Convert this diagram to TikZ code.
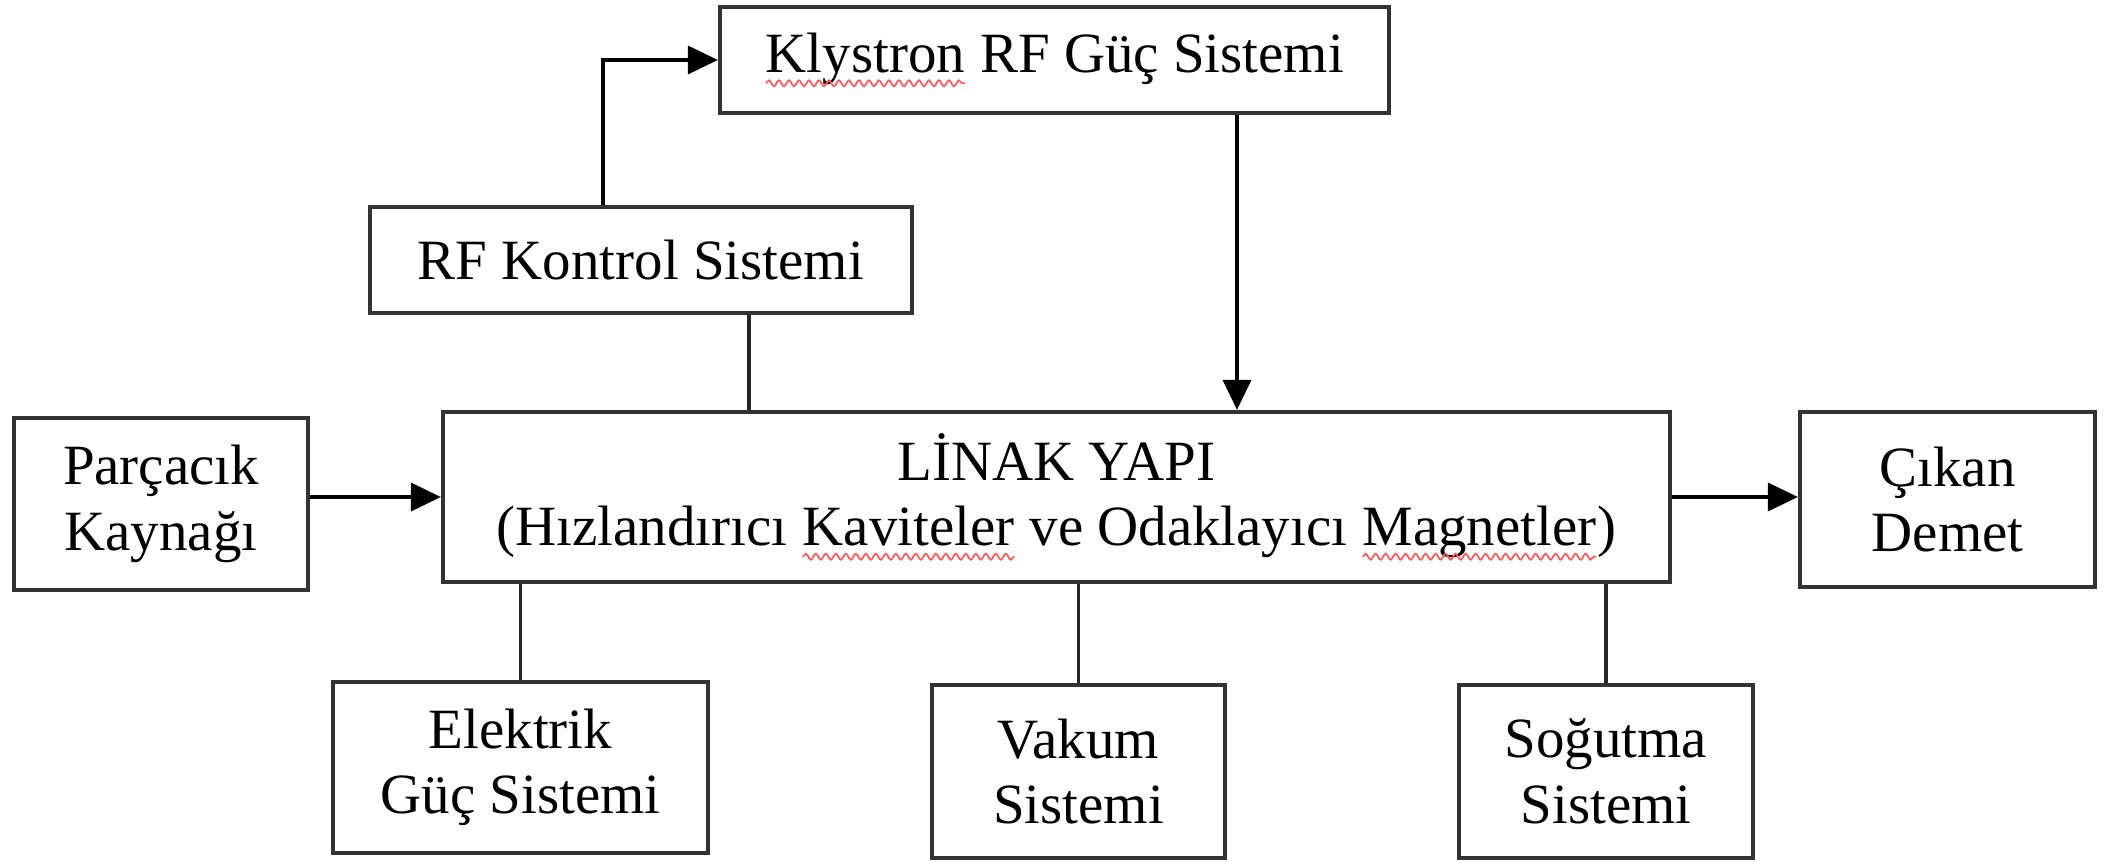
\documentclass[tikz,border=0pt]{standalone}
\usepackage{fontspec}
\setmainfont{Liberation Serif}
\usetikzlibrary{arrows.meta,decorations.pathmorphing}

\newcommand{\imla}[1]{\tikz[baseline=(w.base)]{\node[draw=none,inner sep=0pt,outer sep=0pt,minimum width=0pt,minimum height=0pt] (w) {#1};
  \draw[red!65,line width=0.5pt,decorate,decoration={snake,amplitude=0.3mm,segment length=1mm}] ([yshift=-1.1mm]w.base west) -- ([yshift=-1.1mm]w.base east);}}

\begin{document}
\begin{tikzpicture}[x=0.1mm,y=-0.1mm,
        kutu/.style={draw=black!80,line width=1.2pt,inner sep=0pt,align=center,font=\fontsize{16.2}{18.6}\selectfont},
        ok/.style={line width=1pt,-{Triangle[length=3mm,width=2.8mm]}},
        hat/.style={line width=1pt,draw=black!85}]
        \useasboundingbox (0,0) rectangle (2106,863);

        \node[kutu,minimum width=66.9mm,minimum height=10.6mm] (klystron) at (1054.5,60) {\imla{Klystron} RF Güç Sistemi};
        \node[kutu,minimum width=54.2mm,minimum height=10.6mm] (rfkontrol) at (641,260) {RF Kontrol Sistemi};
        \node[kutu,minimum width=122.7mm,minimum height=17mm] (linak) at (1056.5,497) {LİNAK YAPI\\(Hızlandırıcı \imla{Kaviteler} ve Odaklayıcı \imla{Magnetler})};
        \node[kutu,minimum width=29.4mm,minimum height=17.2mm] (parcacik) at (161,504) {Parçacık\\Kaynağı};
        \node[kutu,minimum width=29.5mm,minimum height=17.5mm] (cikan) at (1947.5,499.5) {Çıkan\\Demet};
        \node[kutu,minimum width=37.5mm,minimum height=17.1mm] (elektrik) at (520.5,767.5) {Elektrik\\Güç Sistemi};
        \node[kutu,minimum width=29.3mm,minimum height=17.3mm] (vakum) at (1078.5,771.5) {Vakum\\Sistemi};
        \node[kutu,minimum width=29.4mm,minimum height=17.3mm] (sogutma) at (1606,771.5) {Soğutma\\Sistemi};

        \coordinate (rfust) at ([xshift=-3.8mm]rfkontrol.north);
        \coordinate (rfalt) at ([xshift=10.8mm]rfkontrol.south);
        \coordinate (klalt) at ([xshift=18.25mm]klystron.south);

        \draw[ok] (parcacik.east |- linak.west) -- (linak.west);
        \draw[ok] (linak.east) -- (cikan.west |- linak.east);
        \draw[ok] (rfust) |- (klystron.west);
        \draw[hat] (rfalt) -- (rfalt |- linak.north);
        \draw[ok] (klalt) -- (klalt |- linak.north);
        \draw[hat] (elektrik.north |- linak.south) -- (elektrik.north);
        \draw[hat] (vakum.north |- linak.south) -- (vakum.north);
        \draw[hat] (sogutma.north |- linak.south) -- (sogutma.north);
    \end{tikzpicture}
\end{document}
